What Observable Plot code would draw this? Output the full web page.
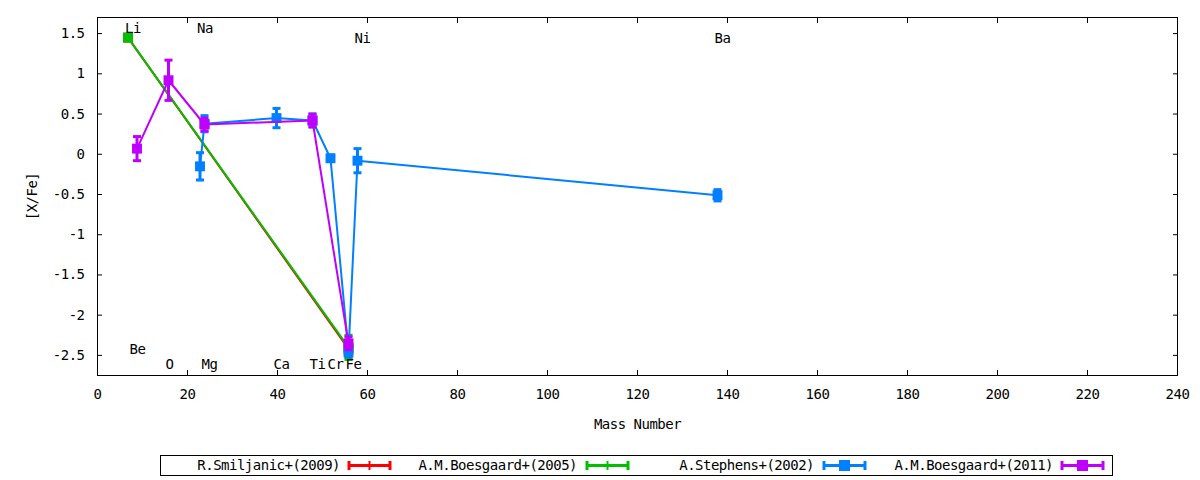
<!DOCTYPE html>
<html>
<head>
<meta charset="utf-8">
<script src="https://cdn.jsdelivr.net/npm/d3@7"></script>
<script src="https://cdn.jsdelivr.net/npm/@observablehq/plot@0.6"></script>
<style>
  body { margin: 0; background: #fff; font-family: "DejaVu Sans Mono", monospace; }
  #wrap { position: relative; width: 1200px; height: 480px; }
  #chart svg text { letter-spacing: -0.5px; }
  #legend { position: absolute; left: 160px; top: 455px; width: 951px; height: 19px; border: 1px solid #000; box-sizing: content-box; }
  .item { position: absolute; top: 0; height: 19px; font-size: 14px; letter-spacing: -0.5px; line-height: 19px; }
  .item span { position: absolute; right: 0; white-space: nowrap; }
  svg.sample { position: absolute; top: 0; }
</style>
</head>
<body>
<div id="wrap">
  <div id="chart"></div>
  <div id="legend"></div>
</div>
<script>
// Elements and mass numbers
const elements = ["Li", "Be", "O", "Na", "Mg", "Ca", "Ti", "Cr", "Fe", "Ni", "Ba"];
const massNumbers = [7, 9, 16, 23, 24, 40, 48, 52, 56, 58, 138];

// Series: R.Smiljanic+(2009)
const smiljanicEl = ["Li", "Fe"];
const smiljanicVal = [1.45, -2.42];
const smiljanicErr = [0.03, 0.10];
// A.M.Boesgaard+(2005)
const boesgaard05El = ["Li", "Fe"];
const boesgaard05Val = [1.45, -2.40];
const boesgaard05Err = [0.03, 0.15];
// A.Stephens+(2002)
const stephensEl = ["Na", "Mg", "Ca", "Ti", "Cr", "Fe", "Ni", "Ba"];
const stephensVal = [-0.15, 0.38, 0.45, 0.42, -0.05, -2.46, -0.08, -0.51];
const stephensErr = [0.17, 0.10, 0.12, 0.08, 0.04, 0.06, 0.15, 0.07];
// A.M.Boesgaard+(2011)
const boesgaard11El = ["Be", "O", "Mg", "Ti", "Fe"];
const boesgaard11Val = [0.07, 0.92, 0.37, 0.42, -2.35];
const boesgaard11Err = [0.15, 0.25, 0.08, 0.08, 0.08];

// Element name labels inside the plot
const labelEl = ["Li", "Na", "Ni", "Ba", "Be", "O", "Mg", "Ca", "Ti", "Cr", "Fe"];
const labelMass = [7, 23, 58, 138, 8, 16, 24, 40, 48, 52, 56];
const labelY = [1.56, 1.56, 1.44, 1.44, -2.43, -2.61, -2.61, -2.61, -2.61, -2.61, -2.61];

// Ticks
const xTicks = [0, 20, 40, 60, 80, 100, 120, 140, 160, 180, 200, 220, 240];
const yTicks = [-2.5, -2, -1.5, -1, -0.5, 0, 0.5, 1, 1.5];

const seriesNames = ["R.Smiljanic+(2009)", "A.M.Boesgaard+(2005)", "A.Stephens+(2002)", "A.M.Boesgaard+(2011)"];
const seriesColors = ["#ff0000", "#00c000", "#0080ff", "#c000ff"];

const massOf = el => massNumbers[elements.indexOf(el)];
function build(name, els, vals, errs) {
  return els.map((el, i) => ({series: name, el, mass: massOf(el), v: vals[i], lo: vals[i] - errs[i], hi: vals[i] + errs[i]}));
}
const data = [
  ...build(seriesNames[0], smiljanicEl, smiljanicVal, smiljanicErr),
  ...build(seriesNames[1], boesgaard05El, boesgaard05Val, boesgaard05Err),
  ...build(seriesNames[2], stephensEl, stephensVal, stephensErr),
  ...build(seriesNames[3], boesgaard11El, boesgaard11Val, boesgaard11Err)
];
const labels = labelEl.map((t, i) => ({t, mass: labelMass[i], y: labelY[i]}));

const capSymbol = {
  draw(context, size) {
    const w = 4;
    context.moveTo(-w, 0);
    context.lineTo(w, 0);
  }
};

const font = "DejaVu Sans Mono";
const fmt = d => String(d);

const marks = [];
seriesNames.forEach((s, k) => {
  const d = data.filter(r => r.series === s);
  marks.push(Plot.line(d, {x: "mass", y: "v", stroke: seriesColors[k], strokeWidth: 2, dx: -1}));
  marks.push(Plot.ruleX(d, {x: "mass", y1: "lo", y2: "hi", stroke: seriesColors[k], strokeWidth: 3, dx: -1}));
  marks.push(Plot.dot(d, {x: "mass", y: "lo", symbol: capSymbol, stroke: seriesColors[k], strokeWidth: 3, r: 4, dx: -1}));
  marks.push(Plot.dot(d, {x: "mass", y: "hi", symbol: capSymbol, stroke: seriesColors[k], strokeWidth: 3, r: 4, dx: -1}));
  marks.push(Plot.dot(d, {x: "mass", y: "v", symbol: "square", fill: seriesColors[k], stroke: "none", r: 5.6, dx: -1}));
});

const chart = Plot.plot({
  width: 1200,
  height: 445,
  marginLeft: 97,
  marginRight: 23,
  marginTop: 17,
  marginBottom: 70,
  style: {fontFamily: font, fontSize: "14px", color: "#000", background: "#fff"},
  x: {domain: [0, 240]},
  y: {domain: [-2.75, 1.7]},
  marks: [
    Plot.frame({stroke: "#000", strokeWidth: 1}),
    Plot.axisX({ticks: xTicks, tickFormat: fmt, tickSize: -5, tickPadding: 19, label: "Mass Number", labelAnchor: "center", labelArrow: "none", labelOffset: 53}),
    Plot.axisX({anchor: "top", ticks: xTicks, tickFormat: () => "", tickSize: -5, label: null}),
    Plot.axisY({ticks: yTicks, tickFormat: fmt, tickSize: -5, tickPadding: 18, label: "[X/Fe]", labelAnchor: "center", labelArrow: "none", labelOffset: 70}),
    Plot.axisY({anchor: "right", ticks: yTicks, tickFormat: () => "", tickSize: -5, label: null}),
    ...marks,
    Plot.text(labels, {x: "mass", y: "y", text: "t", textAnchor: "start", dx: -4, fontSize: 14, fill: "#000"})
  ]
});
document.getElementById("chart").appendChild(chart);

// Legend
const legend = document.getElementById("legend");
const textRight = [339, 576, 813, 1052];
const sampleLeft = [347, 585, 822, 1060];
seriesNames.forEach((s, k) => {
  const item = document.createElement("div");
  item.className = "item";
  item.style.left = "0px";
  item.style.width = (textRight[k] - 160) + "px";
  const sp = document.createElement("span");
  sp.textContent = s;
  item.appendChild(sp);
  legend.appendChild(item);
  const svg = d3.create("svg").attr("class", "sample").attr("width", 46).attr("height", 19)
    .style("left", (sampleLeft[k] - 161) + "px");
  const c = seriesColors[k];
  svg.append("line").attr("x1", 2).attr("x2", 43).attr("y1", 9.5).attr("y2", 9.5).attr("stroke", c).attr("stroke-width", 3);
  svg.append("line").attr("x1", 2).attr("x2", 2).attr("y1", 5).attr("y2", 14).attr("stroke", c).attr("stroke-width", 3);
  svg.append("line").attr("x1", 43).attr("x2", 43).attr("y1", 5).attr("y2", 14).attr("stroke", c).attr("stroke-width", 3);
  if (k >= 2) {
    svg.append("rect").attr("x", 17).attr("y", 4).attr("width", 11).attr("height", 11).attr("fill", c);
  } else {
    svg.append("line").attr("x1", 22.5).attr("x2", 22.5).attr("y1", 5).attr("y2", 14).attr("stroke", c).attr("stroke-width", 2);
  }
  legend.appendChild(svg.node());
});
</script>
</body>
</html>
